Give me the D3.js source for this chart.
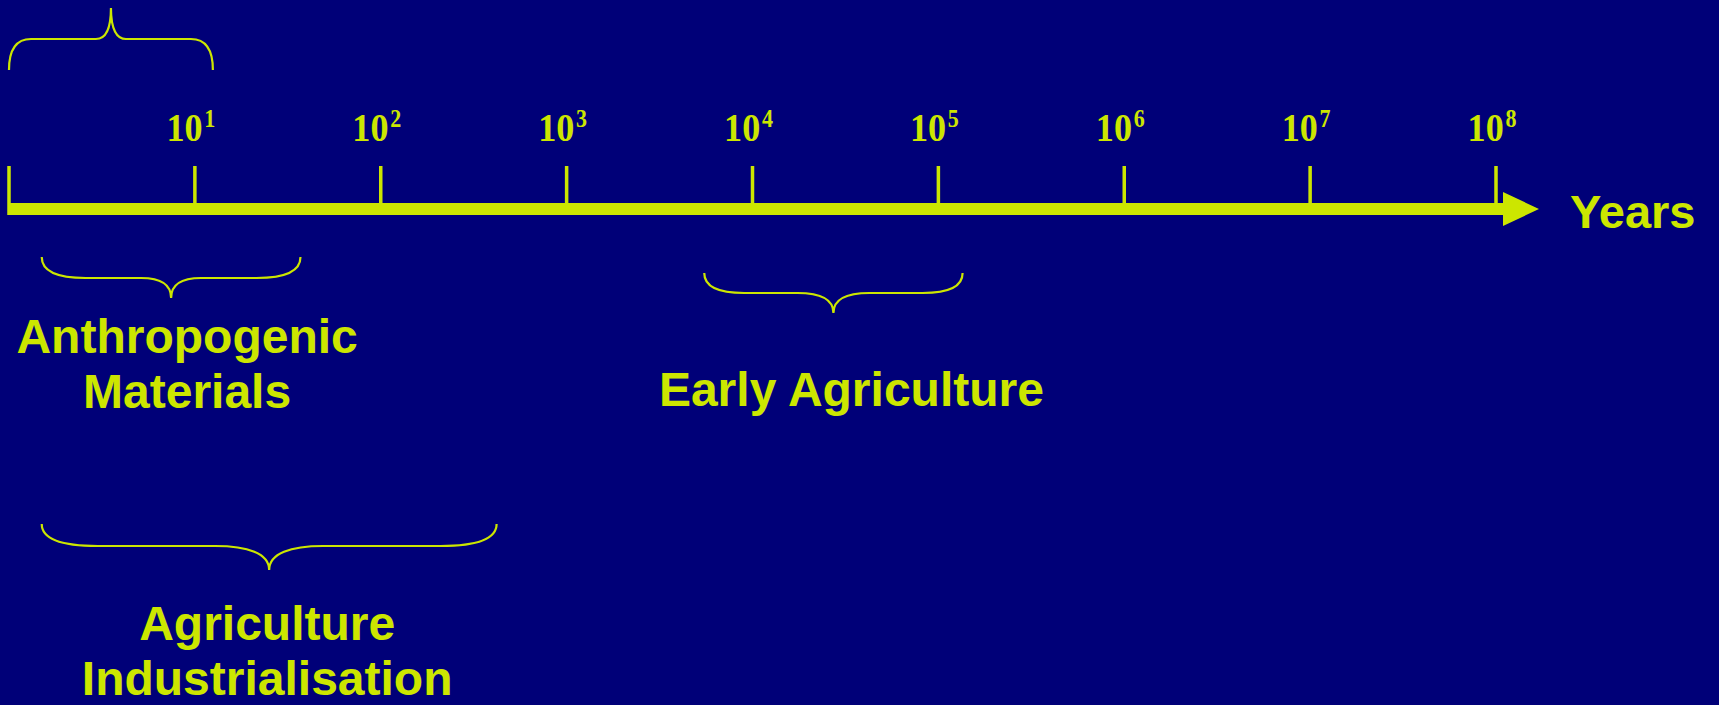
<!DOCTYPE html>
<html>
<head>
<meta charset="utf-8">
<script src="https://cdn.jsdelivr.net/npm/d3@7/dist/d3.min.js"></script>
<style>
  html, body { margin: 0; padding: 0; background: #000078; }
  svg { display: block; }
</style>
</head>
<body>
<div id="chart"></div>
<script>
// tick values on the time axis (years) and their exponents
var tickYears = [1e1, 1e2, 1e3, 1e4, 1e5, 1e6, 1e7, 1e8];
var tickExps = ["1", "2", "3", "4", "5", "6", "7", "8"];

// periods marked with braces (years)
var periodNames = ["", "Anthropogenic|Materials", "Early Agriculture", "Agriculture|Industrialisation"];
var periodStart = [1, 1.5, 5500, 1.5];
var periodEnd = [12.5, 37, 135000, 420];

var width = 1719, height = 705;
var fg = "#cce600";
var axisY = 209;

// brace placement: y of the ends, flat part and tip, label baseline and offset
var braceLayout = [
    { y0: 70, yf: 39, yt: 8, r: 22, c: 15, label: 0, dx: 0 },
    { y0: 257, yf: 278, yt: 298, r: 44, c: 30, label: 353, dx: 16 },
    { y0: 273, yf: 293, yt: 313, r: 40, c: 36, label: 406, dx: 18 },
    { y0: 524, yf: 546, yt: 570, r: 56, c: 54, label: 640, dx: -2 }
];

var svg = d3.select("#chart")
    .append("svg")
    .attr("width", width)
    .attr("height", height);

svg.append("rect")
    .attr("width", width)
    .attr("height", height)
    .attr("fill", "#000078");

var x = d3.scaleLog()
    .domain([1, 1e8])
    .range([9, 1496]);

// axis bar with arrow head
var x0 = x(1), xb = x(1e8) + 7, xt = xb + 36;
svg.append("path")
    .attr("d", "M" + x0 + "," + (axisY - 6) + "L" + xb + "," + (axisY - 6) +
        "L" + xb + "," + (axisY - 17) + "L" + xt + "," + axisY +
        "L" + xb + "," + (axisY + 17) + "L" + xb + "," + (axisY + 6) +
        "L" + x0 + "," + (axisY + 6) + "Z")
    .attr("fill", fg);

// ticks, including the origin
svg.selectAll(".tick")
    .data([1].concat(tickYears))
    .enter()
    .append("rect")
    .attr("class", "tick")
    .attr("x", function(d) { return x(d) - 1.75; })
    .attr("y", 166)
    .attr("width", 3.5)
    .attr("height", axisY + 6 - 166)
    .attr("fill", fg);

// tick labels 10^n
var lab = svg.selectAll(".tlab")
    .data(tickYears)
    .enter()
    .append("g")
    .attr("class", "tlab")
    .attr("transform", function(d) { return "translate(" + (x(d) - 4) + ",141) scale(0.88,1)"; })
    .append("text")
    .attr("text-anchor", "middle")
    .attr("font-family", "'Liberation Serif', 'Times New Roman', serif")
    .attr("font-weight", "bold")
    .attr("font-size", 41)
    .attr("fill", fg);

lab.append("tspan").text("10");
lab.append("tspan")
    .attr("font-size", 25)
    .attr("dx", 2)
    .attr("dy", -14)
    .text(function(d, i) { return tickExps[i]; });

svg.append("text")
    .attr("x", 1570)
    .attr("y", 228)
    .attr("font-family", "'Liberation Sans', Arial, sans-serif")
    .attr("font-weight", "bold")
    .attr("font-size", 47)
    .attr("fill", fg)
    .text("Years");

// brace path between a and b; ends at y0, flat at yf, tip at yt
function brace(a, b, L) {
    var m = (a + b) / 2, y0 = L.y0, yf = L.yf, yt = L.yt, r = L.r, c = L.c;
    return "M" + a + "," + y0 +
        "C" + a + "," + (y0 + (yf - y0) * 0.6) + " " + (a + r * 0.25) + "," + yf + " " + (a + r) + "," + yf +
        "L" + (m - c) + "," + yf +
        "C" + (m - c * 0.4) + "," + yf + " " + m + "," + (yf + (yt - yf) * 0.3) + " " + m + "," + yt +
        "C" + m + "," + (yf + (yt - yf) * 0.3) + " " + (m + c * 0.4) + "," + yf + " " + (m + c) + "," + yf +
        "L" + (b - r) + "," + yf +
        "C" + (b - r * 0.25) + "," + yf + " " + b + "," + (y0 + (yf - y0) * 0.6) + " " + b + "," + y0;
}

svg.selectAll(".brace")
    .data(periodNames)
    .enter()
    .append("path")
    .attr("class", "brace")
    .attr("d", function(d, i) { return brace(x(periodStart[i]), x(periodEnd[i]), braceLayout[i]); })
    .attr("fill", "none")
    .attr("stroke", fg)
    .attr("stroke-width", 2.2);

svg.selectAll(".plab")
    .data(periodNames)
    .enter()
    .filter(function(d) { return d !== ""; })
    .append("text")
    .attr("class", "plab")
    .attr("text-anchor", "middle")
    .attr("font-family", "'Liberation Sans', Arial, sans-serif")
    .attr("font-weight", "bold")
    .attr("font-size", 48)
    .attr("fill", fg)
    .each(function(d) {
        var i = periodNames.indexOf(d);
        var cx = (x(periodStart[i]) + x(periodEnd[i])) / 2 + braceLayout[i].dx;
        var t = d3.select(this);
        d.split("|").forEach(function(line, k) {
            t.append("tspan")
                .attr("x", cx)
                .attr("y", braceLayout[i].label + k * 55)
                .text(line);
        });
    });
</script>
</body>
</html>
